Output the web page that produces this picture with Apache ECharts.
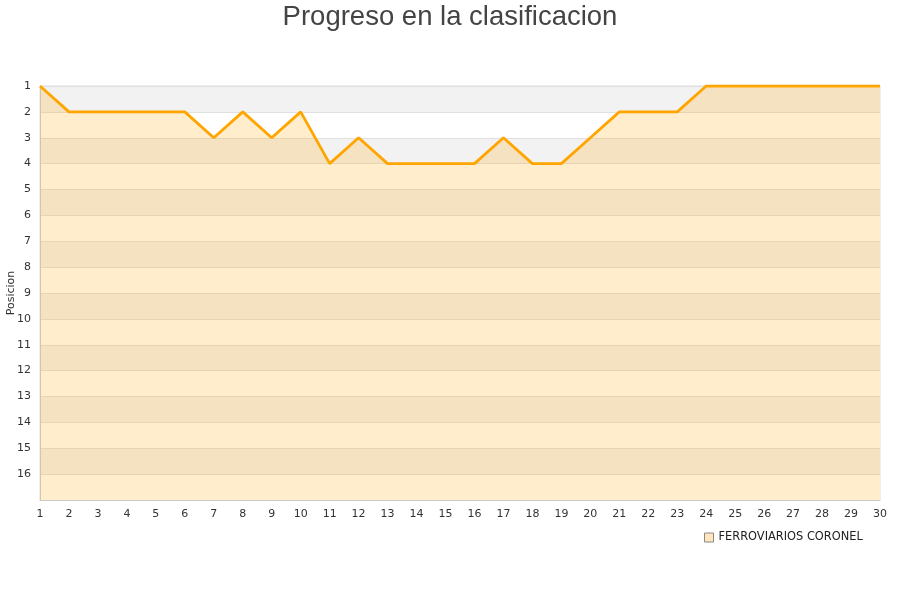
<!DOCTYPE html>
<html>
<head>
<meta charset="utf-8">
<script src="https://cdn.jsdelivr.net/npm/echarts@6/dist/echarts.min.js"></script>
<style>html,body{margin:0;padding:0;background:#fff}#c{width:900px;height:600px}</style>
</head>
<body>
<div id="c"></div>
<script>
var rounds = ['1','2','3','4','5','6','7','8','9','10','11','12','13','14','15','16','17','18','19','20','21','22','23','24','25','26','27','28','29','30'];
var positions = [1,2,2,2,2,2,3,2,3,2,4,3,4,4,4,4,3,4,4,3,2,2,2,1,1,1,1,1,1,1];
var teamName = 'FERROVIARIOS CORONEL';
var titleText = 'Progreso en la clasificacion';
var yAxisName = 'Posicion';

var chart = echarts.init(document.getElementById('c'));
chart.setOption({
  animation: false,
  title: {
    text: titleText, left: 'center', top: -2,
    textStyle: {fontFamily: 'Liberation Sans, Arial, sans-serif', fontSize: 27.5, fontWeight: 'normal', color: '#444'}
  },
  legend: {
    data: [teamName], left: 699, top: 527, itemWidth: 9, itemHeight: 9, icon: 'rect', itemGap: 8,
    itemStyle: {color: '#ffe6bd', borderColor: '#888', borderWidth: 1},
    textStyle: {fontFamily: 'DejaVu Sans, sans-serif', fontSize: 11.4, color: '#222'}
  },
  grid: {left: 40, right: 20, top: 86, bottom: 100, containLabel: false, outerBoundsMode: 'none',
    show: true, borderColor: '#ddd', borderWidth: 1, backgroundColor: 'transparent'},
  xAxis: {
    type: 'category', data: rounds, boundaryGap: false,
    axisLine: {lineStyle: {color: '#ccc'}}, axisTick: {show: false},
    axisLabel: {color: '#333', fontFamily: 'DejaVu Sans, sans-serif', fontSize: 11, margin: 9, interval: 0},
    splitLine: {show: false}
  },
  yAxis: {
    type: 'value', inverse: true, min: 1, max: 17, interval: 1,
    name: yAxisName, nameLocation: 'middle', nameGap: 23, nameMoveOverlap: false,
    nameTextStyle: {color: '#333', fontFamily: 'DejaVu Sans, sans-serif', fontSize: 11},
    axisLine: {show: true, lineStyle: {color: '#ccc'}}, axisTick: {show: false},
    axisLabel: {color: '#333', fontFamily: 'DejaVu Sans, sans-serif', fontSize: 11, margin: 9,
      formatter: function (v) { return v === 17 ? '' : String(v); }},
    splitLine: {show: true, lineStyle: {color: '#e0e0e0'}},
    splitArea: {show: true, areaStyle: {color: ['#f2f2f2', '#ffffff']}}
  },
  series: [{
    name: teamName, type: 'line', data: positions, symbol: 'none',
    lineStyle: {color: '#ffa500', width: 2.8},
    itemStyle: {color: '#ffa500'},
    areaStyle: {color: '#ffa500', opacity: 0.2, origin: 'end'}
  }]
});
</script>
</body>
</html>
